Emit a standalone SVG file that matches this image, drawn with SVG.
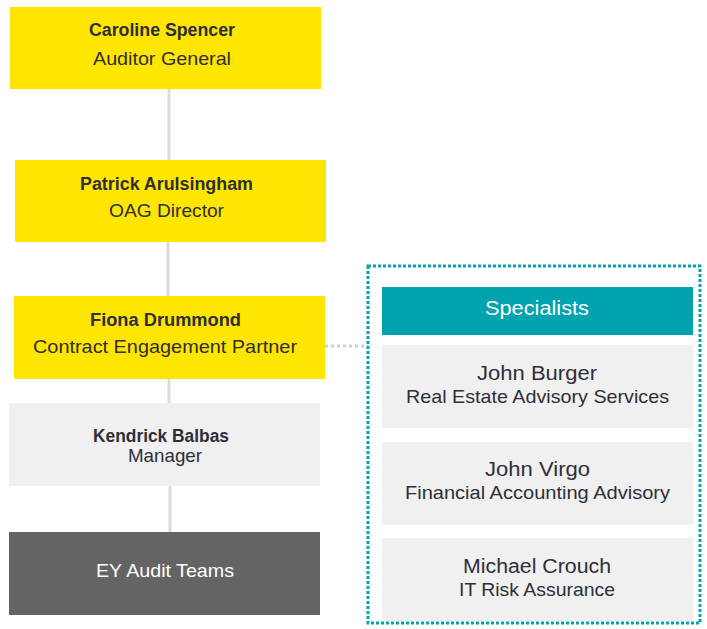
<svg xmlns="http://www.w3.org/2000/svg" width="707" height="629" viewBox="0 0 707 629">
<style>
.y{fill:#ffe600}
.g{fill:#f0f0f0}
.d{fill:#646464}
.t{fill:#00a3ae}
text{font-family:"Liberation Sans",Arial,sans-serif;text-anchor:middle;fill:#2e2e38}
.b{font-weight:bold;font-size:17.5px}
.r{font-size:18.5px}
.n{font-size:20px}
.w{fill:#ffffff}
.con{stroke:#dcdcdc;stroke-width:3;fill:none}
</style>
<rect width="707" height="629" fill="#ffffff"/>
<g id="connectors">
<line class="con" x1="169" y1="89" x2="169" y2="160"/>
<line class="con" x1="168" y1="242" x2="168" y2="296"/>
<line class="con" x1="169" y1="379" x2="169" y2="403"/>
<line class="con" x1="170" y1="486" x2="170" y2="532"/>
<line x1="325" y1="346" x2="368" y2="346" stroke="#cfcfcf" stroke-width="3" stroke-dasharray="3 3"/>
</g>
<g id="caroline">
<rect class="y" x="10" y="7" width="311" height="82"/>
<text class="b" x="162" y="36" textLength="146" lengthAdjust="spacingAndGlyphs">Caroline Spencer</text>
<text class="r" x="162" y="65" textLength="138" lengthAdjust="spacingAndGlyphs">Auditor General</text>
</g>
<g id="patrick">
<rect class="y" x="15" y="160" width="311" height="82"/>
<text class="b" x="166.5" y="190" textLength="173" lengthAdjust="spacingAndGlyphs">Patrick Arulsingham</text>
<text class="r" x="166.5" y="217" textLength="115" lengthAdjust="spacingAndGlyphs">OAG Director</text>
</g>
<g id="fiona">
<rect class="y" x="14" y="296" width="311" height="83"/>
<text class="b" x="165.5" y="326" textLength="151" lengthAdjust="spacingAndGlyphs">Fiona Drummond</text>
<text class="r" x="165" y="353" textLength="264" lengthAdjust="spacingAndGlyphs">Contract Engagement Partner</text>
</g>
<g id="kendrick">
<rect class="g" x="9" y="403" width="311" height="83"/>
<text class="b" x="161" y="442" textLength="136" lengthAdjust="spacingAndGlyphs">Kendrick Balbas</text>
<text class="r" x="165" y="462" textLength="74" lengthAdjust="spacingAndGlyphs">Manager</text>
</g>
<g id="ey-teams">
<rect class="d" x="9" y="532" width="311" height="83"/>
<text class="r w" x="165" y="577" textLength="138" lengthAdjust="spacingAndGlyphs">EY Audit Teams</text>
</g>
<g id="specialists-group">
<rect x="368" y="266" width="332" height="357" fill="none" stroke="#00a3ae" stroke-width="3" stroke-dasharray="3 2"/>
</g>
<g id="specialists">
<rect class="t" x="382" y="287" width="311" height="48"/>
<text class="n w" x="537" y="315" textLength="104" lengthAdjust="spacingAndGlyphs">Specialists</text>
</g>
<g id="john-burger">
<rect class="g" x="382" y="345" width="311" height="83"/>
<text class="n" x="537" y="380" textLength="120" lengthAdjust="spacingAndGlyphs">John Burger</text>
<text class="r" x="537.5" y="403" textLength="263" lengthAdjust="spacingAndGlyphs">Real Estate Advisory Services</text>
</g>
<g id="john-virgo">
<rect class="g" x="382" y="442" width="311" height="83"/>
<text class="n" x="537.5" y="476" textLength="105" lengthAdjust="spacingAndGlyphs">John Virgo</text>
<text class="r" x="537.5" y="499" textLength="265" lengthAdjust="spacingAndGlyphs">Financial Accounting Advisory</text>
</g>
<g id="michael-crouch">
<rect class="g" x="382" y="538" width="311" height="83"/>
<text class="n" x="537" y="573" textLength="148" lengthAdjust="spacingAndGlyphs">Michael Crouch</text>
<text class="r" x="537" y="596" textLength="156" lengthAdjust="spacingAndGlyphs">IT Risk Assurance</text>
</g>
</svg>
